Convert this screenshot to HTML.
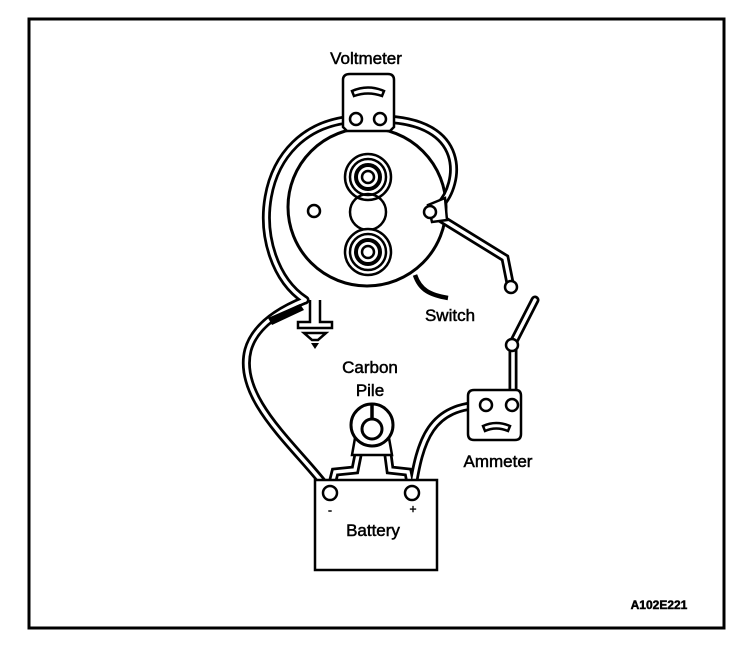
<!DOCTYPE html>
<html><head><style>
html,body{margin:0;padding:0;background:#fff;}
svg{display:block;}
text{font-family:"Liberation Sans",Arial,sans-serif;fill:#000;stroke:#000;stroke-width:0.5;}
</style></head><body>
<svg width="752" height="656" viewBox="0 0 752 656" xmlns="http://www.w3.org/2000/svg">
<rect x="0" y="0" width="752" height="656" fill="#fff"/>
<rect x="29" y="19" width="695" height="609" fill="none" stroke="#000" stroke-width="3"/>

<!-- starter body -->
<circle cx="367" cy="207" r="79" fill="none" stroke="#000" stroke-width="3"/>
<circle cx="368" cy="177" r="23" fill="none" stroke="#000" stroke-width="2.5"/>
<circle cx="368" cy="177" r="18" fill="none" stroke="#000" stroke-width="2.5"/>
<circle cx="368" cy="177" r="12" fill="none" stroke="#000" stroke-width="4"/>
<circle cx="368" cy="177" r="6" fill="none" stroke="#000" stroke-width="2.5"/>
<circle cx="368" cy="212" r="18" fill="none" stroke="#000" stroke-width="2.5"/>
<circle cx="368" cy="252" r="23" fill="#fff" stroke="#000" stroke-width="2.5"/>
<circle cx="368" cy="252" r="18" fill="none" stroke="#000" stroke-width="2.5"/>
<circle cx="368" cy="252" r="12" fill="none" stroke="#000" stroke-width="4"/>
<circle cx="368" cy="252" r="6" fill="none" stroke="#000" stroke-width="2.5"/>
<circle cx="314" cy="211" r="6" fill="none" stroke="#000" stroke-width="2.5"/>

<!-- wires (double lines) -->
<g fill="none" stroke-linecap="round">
 <g stroke="#000" stroke-width="9">
  <path d="M356,119 C250,125 245,260 305,300"/>
  <path d="M380,119 C470,120 460,185 440,205"/>
  <path d="M432,213 L505,258 L510,283"/>
  <path d="M535,300 L513,343 L513,400"/>
  <path d="M330,492 C300,450 235,400 248,350 C255,325 280,310 305,300"/>
  <path d="M412,492 C420,440 430,405 486,405"/>
  <path d="M358,455 L355,470 L335,472 L330,492"/>
  <path d="M388,455 L390,470 L408,472 L412,492"/>
 </g>
 <g stroke="#fff" stroke-width="3.5">
  <path d="M356,119 C250,125 245,260 305,300"/>
  <path d="M380,119 C470,120 460,185 440,205"/>
  <path d="M432,213 L505,258 L510,283"/>
  <path d="M535,300 L513,343 L513,400"/>
  <path d="M330,492 C300,450 235,400 248,350 C255,325 280,310 305,300"/>
  <path d="M412,492 C420,440 430,405 486,405"/>
  <path d="M358,455 L355,470 L335,472 L330,492"/>
  <path d="M388,455 L390,470 L408,472 L412,492"/>
 </g>
</g>
<path d="M415,275 C420,290 430,295 448,298" fill="none" stroke="#000" stroke-width="4.5"/>
<!-- clamp right -->
<path d="M428,205 L445,198 L447,220 L432,222 Z" fill="#fff" stroke="#000" stroke-width="2.5"/>
<circle cx="430" cy="212" r="6" fill="#fff" stroke="#000" stroke-width="2.5"/>
<circle cx="511" cy="287" r="6" fill="#fff" stroke="#000" stroke-width="2.5"/>
<circle cx="512" cy="345" r="6" fill="#fff" stroke="#000" stroke-width="2.5"/>
<!-- ground -->
<path d="M310,300 L310,322 L298,322 L298,328 L332,328 L332,322 L320,322 L320,300" fill="#fff" stroke="#000" stroke-width="2.5"/>
<path d="M304,333 L326,333 L318,340 L312,340 Z" fill="#fff" stroke="#000" stroke-width="2.5"/>
<path d="M311,343 L319,343 L315,349 Z" fill="#000"/>
<path d="M268,318 L300,304 L304,310 L272,325 Z" fill="#000"/>

<!-- voltmeter -->
<path d="M343,80 Q343,74 350,74 L388,74 Q394,74 394,80 L394,127 L390,131 L347,131 L343,127 Z" fill="#fff" stroke="#000" stroke-width="2.5"/>
<path d="M352,91 Q368,84 384,91 L382,96 Q368,91 354,96 Z" fill="#fff" stroke="#000" stroke-width="2.5"/>
<circle cx="356" cy="119" r="6" fill="#fff" stroke="#000" stroke-width="2.5"/>
<circle cx="380" cy="119" r="6" fill="#fff" stroke="#000" stroke-width="2.5"/>

<!-- carbon pile -->
<path d="M355,438 L352,455 L392,455 L389,438" fill="#fff" stroke="#000" stroke-width="2.5"/>
<circle cx="372" cy="425" r="21" fill="#fff" stroke="#000" stroke-width="3"/>
<circle cx="372" cy="429" r="10" fill="#fff" stroke="#000" stroke-width="3"/>
<path d="M372,404 L372,418" stroke="#000" stroke-width="3.5"/>

<!-- ammeter -->
<path d="M468,396 Q468,390 474,390 L516,390 Q521,390 521,396 L521,434 Q521,440 515,440 L474,440 Q468,440 468,434 Z" fill="#fff" stroke="#000" stroke-width="2.5"/>
<path d="M483,426 Q496,420 510,426 L508,431 Q496,426 485,431 Z" fill="#fff" stroke="#000" stroke-width="2.5"/>
<circle cx="486" cy="405" r="6" fill="#fff" stroke="#000" stroke-width="2.5"/>
<circle cx="512" cy="405" r="6" fill="#fff" stroke="#000" stroke-width="2.5"/>

<!-- battery -->
<rect x="315" y="480" width="122" height="90" fill="#fff" stroke="#000" stroke-width="2.5"/>
<circle cx="330" cy="493" r="7" fill="#fff" stroke="#000" stroke-width="2.5"/>
<circle cx="412" cy="493" r="7" fill="#fff" stroke="#000" stroke-width="2.5"/>
<text x="330" y="514" font-size="12" text-anchor="middle">-</text>
<text x="413" y="513" font-size="12" text-anchor="middle">+</text>

<text x="366" y="64" font-size="17" text-anchor="middle">Voltmeter</text>
<text x="450" y="321" font-size="17" text-anchor="middle">Switch</text>
<text x="370" y="373" font-size="17" text-anchor="middle">Carbon</text>
<text x="370" y="396" font-size="17" text-anchor="middle">Pile</text>
<text x="498" y="467" font-size="17" text-anchor="middle">Ammeter</text>
<text x="373" y="536" font-size="17" text-anchor="middle">Battery</text>
<text x="659" y="609" font-size="12" font-weight="bold" text-anchor="middle">A102E221</text>
</svg>
</body></html>
